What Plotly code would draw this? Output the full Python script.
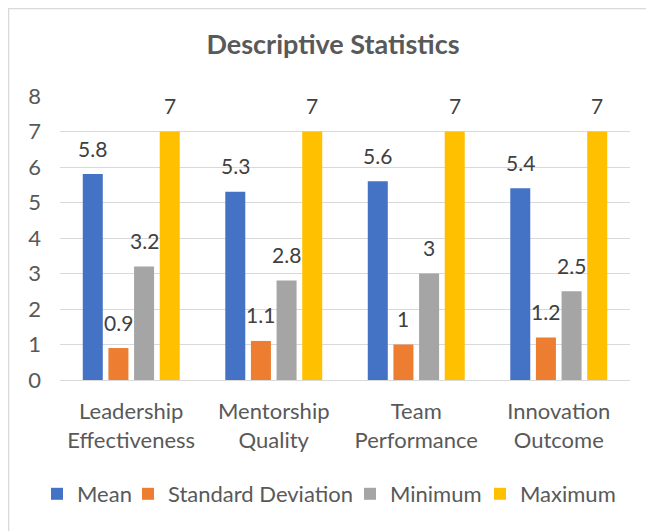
import plotly.graph_objects as go

categories = ["Leadership<br>Effectiveness", "Mentorship<br>Quality", "Team<br>Performance", "Innovation<br>Outcome"]
series_names = ["Mean", "Standard Deviation", "Minimum", "Maximum"]
mean_vals = [5.8, 5.3, 5.6, 5.4]
sd_vals = [0.9, 1.1, 1.0, 1.2]
min_vals = [3.2, 2.8, 3.0, 2.5]
max_vals = [7, 7, 7, 7]
colors = ["#4472C4", "#ED7D31", "#A5A5A5", "#FFC000"]
y_ticks = [0, 1, 2, 3, 4, 5, 6, 7, 8]

# page body has an 8px margin, so layout is shifted up/left by 8px
W, H = 654, 531
ML, MR, MT, MB = 52, 32, 88, 159
BARGAP, BARGROUPGAP = 0.28, 0.22
FONT = "Lato, Calibri, sans-serif"
TXT = "#595959"
FS = 22
LEGEND_TEXT_X = [69, 160, 382, 512]   # figure px where legend texts start
LEGEND_Y = 486                         # figure px, legend row centre

all_vals = [mean_vals, sd_vals, min_vals, max_vals]
plot_w = W - ML - MR
plot_h = H - MT - MB
legend_ids = ["legend", "legend2", "legend3", "legend4"]

fig = go.Figure()
for name, vals, col, lid in zip(series_names, all_vals, colors, legend_ids):
    fig.add_trace(go.Bar(x=categories, y=vals, name=name, marker_color=col,
                         marker_line_width=0, hoverinfo="skip", legend=lid))

cat_w = plot_w / len(categories)
pitch = cat_w * (1 - BARGAP) / len(series_names)
n = len(series_names)
for i, vals in enumerate(all_vals):
    for c, v in zip(categories, vals):
        fig.add_annotation(x=c, y=v, xref="x", yref="y", text=f"{v:g}",
                           showarrow=False, xshift=(i - (n - 1) / 2) * pitch,
                           yshift=26, yanchor="middle",
                           font=dict(family=FONT, size=21, color="#404040"))

# chart border (only left and top visible in reference)
fig.add_shape(type="rect", xref="paper", yref="paper",
              x0=(0.5 - ML) / plot_w, x1=1.3, y0=-1,
              y1=1 + (MT - 0.5) / plot_h,
              line=dict(color="#D9D9D9", width=1.5), layer="below")

legend_layouts = {}
for lid, tx in zip(legend_ids, LEGEND_TEXT_X):
    legend_layouts[lid] = dict(
        orientation="h", x=(tx - 40 - ML) / plot_w, xanchor="left",
        y=-(LEGEND_Y - (H - MB)) / plot_h, yanchor="middle",
        font=dict(family=FONT, size=FS, color=TXT),
        itemwidth=30, bgcolor="rgba(0,0,0,0)", borderwidth=0)

fig.update_layout(
    width=W, height=H,
    margin=dict(l=ML, r=MR, t=MT, b=MB),
    paper_bgcolor="white", plot_bgcolor="white",
    barmode="group", bargap=BARGAP, bargroupgap=BARGROUPGAP,
    title=dict(text="<b>Descriptive Statistics</b>", x=325 / W, xanchor="center",
               y=1 - 37 / H, yanchor="middle",
               font=dict(family=FONT, size=27, color=TXT)),
    font=dict(family=FONT, color=TXT, size=FS),
    showlegend=True,
    xaxis=dict(showgrid=False, showline=False, ticks="", ticklabelstandoff=16,
               tickfont=dict(size=FS, color=TXT)),
    yaxis=dict(range=[0, 8], tickvals=y_ticks, showgrid=True, gridcolor="#D9D9D9",
               gridwidth=1, zeroline=True, zerolinecolor="#D9D9D9", zerolinewidth=1,
               showline=False, ticks="", ticklabelstandoff=18,
               tickfont=dict(size=FS, color=TXT)),
    **legend_layouts,
)

fig.write_html("out.html")
